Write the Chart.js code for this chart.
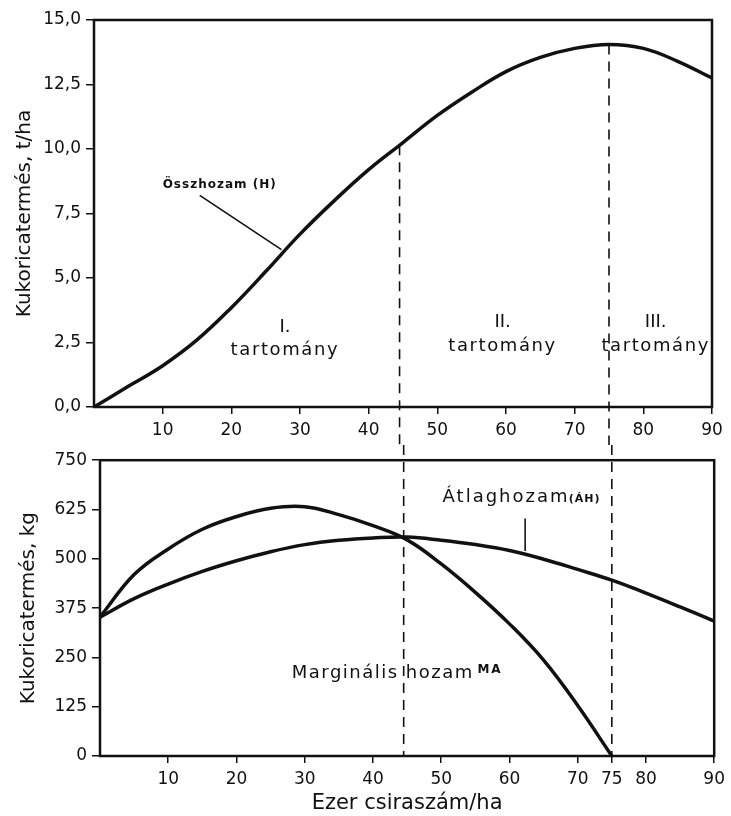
<!DOCTYPE html>
<html>
<head>
<meta charset="utf-8">
<script src="https://cdn.jsdelivr.net/npm/chart.js@4.4.0/dist/chart.umd.min.js"></script>
<style>
  html, body { margin: 0; padding: 0; background: #fff; }
  #wrap { position: relative; width: 731px; height: 816px; }
  #chartTop { position: absolute; left: 0; top: 0; }
  #chartBottom { position: absolute; left: 0; top: 445px; }
</style>
</head>
<body>
<div id="wrap">
  <canvas id="chartTop" width="731" height="445"></canvas>
  <canvas id="chartBottom" width="731" height="371"></canvas>
</div>
<script>
// ezer csíraszám/ha
var density = [0, 5, 10, 15, 20, 25, 30, 35, 40, 45, 50, 55, 60, 65, 70, 75, 80, 85, 90];
// Összhozam (H), t/ha
var totalYield = [0, 0.8, 1.6, 2.6, 3.85, 5.25, 6.7, 8.0, 9.2, 10.25, 11.3, 12.2, 13.0, 13.55, 13.9, 14.05, 13.9, 13.4, 12.75];
// Átlaghozam (ÁH), kg
var averageYield = [352, 399, 436, 468, 495, 518, 536, 547, 553, 555, 547, 536, 521, 499, 473, 446, 413, 378, 342];
// Marginális hozam (MA), kg - up to 75
var marginalYield = [352, 460, 525, 575, 607, 628, 632, 612, 584, 548, 487, 415, 335, 243, 128, 0];

var topYTicks = [0, 2.5, 5, 7.5, 10, 12.5, 15];
var topXTicks = [10, 20, 30, 40, 50, 60, 70, 80, 90];
var bottomYTicks = [0, 125, 250, 375, 500, 625, 750];
var bottomXTicks = [10, 20, 30, 40, 50, 60, 70, 75, 80, 90];
var rangeLimits = [44.5, 75];

var black = '#111';
Chart.defaults.font.family = 'DejaVu Sans';
Chart.defaults.color = black;

function points(xs, ys) {
    return ys.map(function (y, i) { return { x: xs[i], y: y }; });
}

function valueAt(xs, ys, x) {
    for (var i = 1; i < ys.length; i++) {
        if (x <= xs[i]) {
            var t = (x - xs[i - 1]) / (xs[i] - xs[i - 1]);
            return ys[i - 1] + t * (ys[i] - ys[i - 1]);
        }
    }
    return ys[ys.length - 1];
}

function curve(data) {
    return {
        data: data,
        borderColor: black,
        borderWidth: 3.5,
        pointRadius: 0,
        fill: false,
        tension: 0.4
    };
}

function axisGrid(len) {
    return { drawOnChartArea: false, drawTicks: true, tickLength: len, color: black, lineWidth: 1.5 };
}

// box around the plot area
var framePlugin = {
    id: 'frame',
    beforeDatasetsDraw: function (chart) {
        var a = chart.chartArea, ctx = chart.ctx;
        ctx.save();
        ctx.strokeStyle = black;
        ctx.lineWidth = 2.5;
        ctx.strokeRect(a.left, a.top, a.right - a.left, a.bottom - a.top);
        ctx.restore();
    }
};

function dashed(ctx, x, y1, y2) {
    ctx.save();
    ctx.strokeStyle = black;
    ctx.lineWidth = 1.6;
    ctx.setLineDash([10, 7]);
    ctx.beginPath();
    ctx.moveTo(x, y1);
    ctx.lineTo(x, y2);
    ctx.stroke();
    ctx.restore();
}

function drawTexts(chart, items) {
    var ctx = chart.ctx, xs = chart.scales.x, ys = chart.scales.y;
    items.forEach(function (t) {
        ctx.save();
        ctx.fillStyle = black;
        ctx.textBaseline = 'middle';
        ctx.font = t.font;
        ctx.letterSpacing = (t.spacing || 0) + 'px';
        ctx.textAlign = t.align || 'center';
        ctx.fillText(t.text, xs.getPixelForValue(t.x), ys.getPixelForValue(t.y));
        ctx.restore();
    });
}

function drawLeader(chart, x1, y1, x2, y2) {
    var ctx = chart.ctx, xs = chart.scales.x, ys = chart.scales.y;
    ctx.save();
    ctx.strokeStyle = black;
    ctx.lineWidth = 1.6;
    ctx.beginPath();
    ctx.moveTo(xs.getPixelForValue(x1), ys.getPixelForValue(y1));
    ctx.lineTo(xs.getPixelForValue(x2), ys.getPixelForValue(y2));
    ctx.stroke();
    ctx.restore();
}

var big = '18px DejaVu Sans';

var topNotes = {
    id: 'topNotes',
    afterDatasetsDraw: function (chart) {
        var xs = chart.scales.x, ys = chart.scales.y;
        rangeLimits.forEach(function (b) {
            dashed(chart.ctx, xs.getPixelForValue(b), ys.getPixelForValue(valueAt(density, totalYield, b)), chart.height);
        });
        drawTexts(chart, [
            { text: 'I.', x: 27.8, y: 3.1, font: big },
            { text: 'tartomány', x: 27.8, y: 2.2, font: big, spacing: 1.6 },
            { text: 'II.', x: 59.5, y: 3.3, font: big },
            { text: 'tartomány', x: 59.5, y: 2.35, font: big, spacing: 1.6 },
            { text: 'III.', x: 81.8, y: 3.3, font: big },
            { text: 'tartomány', x: 81.8, y: 2.35, font: big, spacing: 1.6 },
            { text: 'Összhozam (H)', x: 10, y: 8.6, font: 'bold 12px DejaVu Sans', align: 'left', spacing: 1 }
        ]);
        drawLeader(chart, 15.4, 8.2, 27.3, 6.1);
    }
};

var bottomNotes = {
    id: 'bottomNotes',
    afterDatasetsDraw: function (chart) {
        var xs = chart.scales.x, ys = chart.scales.y;
        rangeLimits.forEach(function (b) {
            dashed(chart.ctx, xs.getPixelForValue(b), 0, ys.getPixelForValue(0));
        });
        drawTexts(chart, [
            { text: 'Átlaghozam', x: 50.2, y: 655, font: big, align: 'left', spacing: 2 },
            { text: '(ÁH)', x: 68.7, y: 650, font: 'bold 11px DejaVu Sans', align: 'left', spacing: 1 },
            { text: 'Marginális hozam', x: 28.1, y: 210, font: big, align: 'left', spacing: 1.5 },
            { text: 'MA', x: 55.3, y: 218, font: 'bold 12px DejaVu Sans', align: 'left', spacing: 2 }
        ]);
        drawLeader(chart, 62.3, 602, 62.3, 520);
    }
};

var topChart = new Chart(document.getElementById('chartTop').getContext('2d'), {
    type: 'line',
    data: {
        datasets: [curve(points(density, totalYield))]
    },
    options: {
        responsive: false,
        animation: false,
        devicePixelRatio: 1,
        layout: { padding: { top: 20, right: 19, bottom: 0, left: 0 } },
        plugins: { legend: { display: false }, tooltip: { enabled: false } },
        scales: {
            x: {
                type: 'linear', min: 0, max: 90,
                afterBuildTicks: function (s) { s.ticks = topXTicks.map(function (v) { return { value: v }; }); },
                afterFit: function (s) { s.height = 38; },
                grid: axisGrid(7),
                border: { display: false },
                ticks: { font: { size: 17 }, color: black, padding: 6, maxRotation: 0, autoSkip: false }
            },
            y: {
                min: 0, max: 15,
                afterBuildTicks: function (s) { s.ticks = topYTicks.map(function (v) { return { value: v }; }); },
                afterFit: function (s) { s.width = 94; },
                grid: axisGrid(8),
                border: { display: false },
                ticks: {
                    font: { size: 17 }, color: black, padding: 5,
                    callback: function (v) { return v.toFixed(1).replace('.', ','); }
                },
                title: { display: true, text: 'Kukoricatermés, t/ha', font: { size: 20 }, color: black, padding: { top: 13, bottom: 0 } }
            }
        }
    },
    plugins: [framePlugin, topNotes]
});

var bottomChart = new Chart(document.getElementById('chartBottom').getContext('2d'), {
    type: 'line',
    data: {
        datasets: [
            curve(points(density, averageYield)),
            curve(points(density, marginalYield))
        ]
    },
    options: {
        responsive: false,
        animation: false,
        devicePixelRatio: 1,
        layout: { padding: { top: 7, right: 13, bottom: 0, left: 0 } },
        plugins: { legend: { display: false }, tooltip: { enabled: false } },
        scales: {
            x: {
                type: 'linear', min: 0, max: 90,
                afterBuildTicks: function (s) { s.ticks = bottomXTicks.map(function (v) { return { value: v }; }); },
                afterFit: function (s) { s.height = 60; },
                grid: axisGrid(7),
                border: { display: false },
                ticks: { font: { size: 17 }, color: black, padding: 6, maxRotation: 0, autoSkip: false },
                title: { display: true, text: 'Ezer csiraszám/ha', font: { size: 21 }, color: black, padding: { top: 0, bottom: 0 } }
            },
            y: {
                min: 0, max: 750,
                afterBuildTicks: function (s) { s.ticks = bottomYTicks.map(function (v) { return { value: v }; }); },
                afterFit: function (s) { s.width = 100; },
                grid: axisGrid(8),
                border: { display: false },
                ticks: { font: { size: 17 }, color: black, padding: 5 },
                title: { display: true, text: 'Kukoricatermés, kg', font: { size: 20 }, color: black, padding: { top: 17, bottom: 0 } }
            }
        }
    },
    plugins: [framePlugin, bottomNotes]
});
</script>
</body>
</html>
